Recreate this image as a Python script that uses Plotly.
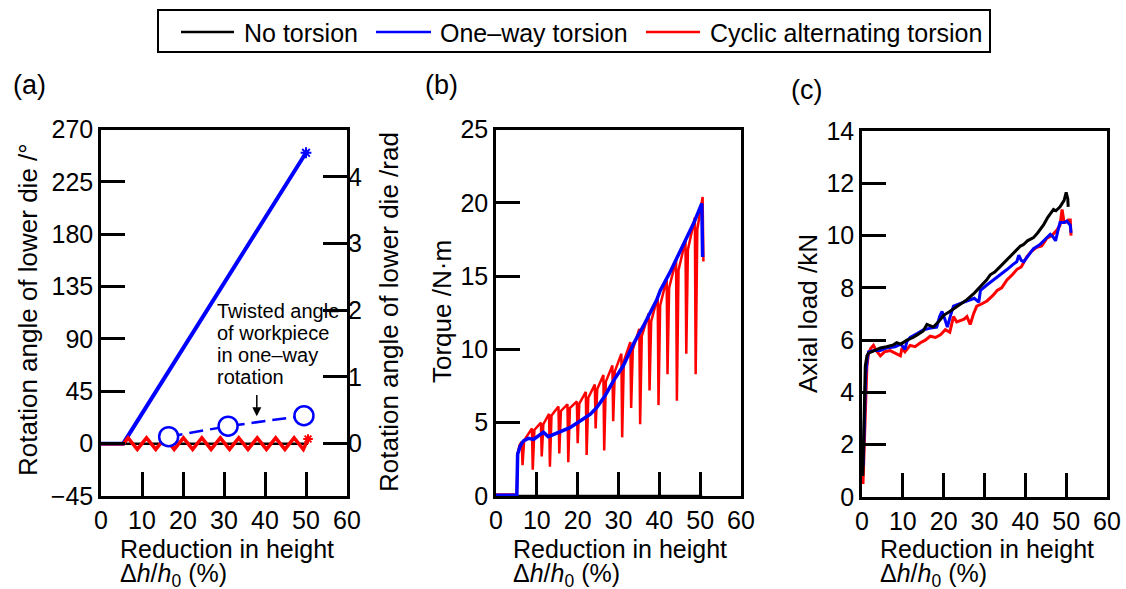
import plotly.graph_objects as go
import math

W, H = 1126, 589
def px(x):
    return x / W
def py(y):
    return 1 - y / H

FONT = "Arial, Liberation Sans, sans-serif"
BLACK, BLUE, RED = "#000000", "#0000ff", "#ff0000"

# ---------------- Panel (a): rotation angle ----------------
a_none_x = [0, 50.5]
a_none_y = [0, 0]
a_oneway_x = [0, 2.5, 5.4, 50.0]
a_oneway_y = [0, 0, 0, 250]
a_twist_x = [16.5, 31.0, 49.5]
a_twist_y = [6, 15, 24]
a_cyclic_x = [0, 5.5, 6.6, 8.85, 11.1, 13.35, 15.6, 17.85, 20.1, 22.35, 24.6,
              26.85, 29.1, 31.35, 33.6, 35.85, 38.1, 40.35, 42.6, 44.85, 47.1,
              49.35, 50.5]
a_cyclic_y = [0, 0, 5, -5, 5, -5, 5, -5, 5, -5, 5,
              -5, 5, -5, 5, -5, 5, -5, 5, -5, 5,
              -5, 4]
a_deg_ticks = [-45, 0, 45, 90, 135, 180, 225, 270]
a_rad_ticks = [0, 1, 2, 3, 4]

# ---------------- Panel (b): torque ----------------
b_none_x = [0, 50.5]
b_none_y = [0, 0]
b_oneway_x = [0, 2, 5.1, 5.3, 5.9, 6.7, 7.9, 9.2, 10.4, 11.6, 12.8, 14.9, 18.1,
              20.6, 23.1, 24.7, 26.7, 28.8, 31.2, 33.7, 36.1, 39.4, 40.2, 42.5,
              45.1, 48.4, 50.4, 50.6]
b_oneway_y = [0.05, 0.05, 0.05, 2.85, 3.4, 3.75, 3.93, 3.86, 4.09, 4.35, 4.05,
              4.3, 4.66, 5.12, 5.58, 6.04, 6.84, 7.87, 8.9, 10.4, 11.6, 13.4,
              14.0, 15.2, 16.65, 18.6, 19.95, 16.3]
b_cyclic_x = [0, 5.1, 5.3, 5.8, 6.3, 6.5, 6.9, 8.8, 9.0, 9.4, 11.0, 11.2, 11.6,
              13.0, 13.2, 13.6, 15.3, 15.5, 15.9, 17.5, 17.7, 18.1, 19.8, 20.0,
              20.4, 22.0, 22.2, 22.6, 24.2, 24.4, 24.8, 26.3, 26.5, 26.9, 28.5,
              28.7, 29.1, 30.7, 30.9, 31.3, 32.9, 33.1, 33.5, 35.1, 35.3, 35.7,
              37.4, 37.6, 38.0, 39.6, 39.8, 40.2, 41.8, 42.0, 42.4, 44.1, 44.3,
              44.7, 46.4, 46.6, 47.0, 48.7, 48.9, 49.3, 50.6, 50.8]
b_cyclic_y = [0.1, 0.1, 2.9, 3.5, 3.7, 2.1, 3.8, 4.6, 1.8, 4.5, 5.0, 2.7, 4.9,
              5.6, 2.0, 5.5, 6.1, 2.9, 5.8, 6.25, 2.3, 6.0, 6.45, 3.6,
              6.3, 7.1, 2.8, 6.7, 7.6, 4.6, 7.3, 8.25, 3.1, 7.8, 8.9,
              5.1, 8.5, 9.7, 4.0, 9.2, 10.5, 6.0, 10.0, 11.4, 4.9, 10.9,
              12.45, 7.2, 11.9, 13.6, 6.2, 13.0, 14.8, 8.3, 14.2, 16.1, 6.5,
              15.4, 17.45, 9.7, 16.8, 19.0, 8.3, 18.2, 20.4, 16.0]

# ---------------- Panel (c): axial load ----------------
c_none_x = [0.2, 0.5, 0.8, 1.2, 1.6, 3.0, 4.5, 6.0, 7.7, 8.5, 9.5, 11.0, 12.5,
            13.5, 15.0, 15.9, 17.5, 19.0, 20.0, 21.5, 23.3, 24.5, 25.7, 27.5,
            29.0, 30.5, 31.4, 32.5, 33.9, 35.0, 36.3, 37.5, 38.8, 39.5, 40.5,
            42.0, 43.0, 44.5, 45.5, 46.9, 47.5, 48.5, 49.5, 50.0, 50.4, 50.5]
c_none_y = [0.8, 3.0, 5.0, 5.4, 5.5, 5.6, 5.7, 5.75, 5.82, 5.9, 5.85, 6.0, 6.1,
            6.2, 6.35, 6.6, 6.5, 6.75, 6.95, 7.1, 7.3, 7.4, 7.55, 7.8,
            8.05, 8.3, 8.5, 8.6, 8.82, 9.0, 9.2, 9.4, 9.6, 9.65, 9.8,
            9.92, 10.1, 10.42, 10.7, 11.0, 10.95, 11.1, 11.35, 11.65, 11.4, 11.1]
c_oneway_x = [0.3, 0.6, 0.9, 1.3, 1.6, 3.0, 4.5, 6.0, 8.1, 9.5, 10.5, 11.0,
              11.8, 13.5, 15.1, 16.5, 18.3, 19.0, 19.6, 20.3, 20.9, 21.6, 22.4,
              24.0, 25.7, 27.5, 28.6, 29.0, 30.5, 32.2, 34.0, 35.5, 37.0, 37.9,
              38.4, 39.0, 39.6, 41.0, 42.0, 43.5, 44.5, 46.1, 46.8, 47.4, 48.0,
              48.5, 49.5, 50.2, 50.7, 51.0, 51.2]
c_oneway_y = [1.2, 3.0, 4.7, 5.3, 5.55, 5.6, 5.6, 5.7, 5.75, 5.85, 5.65, 5.95,
              6.1, 6.25, 6.4, 6.45, 6.5, 6.9, 7.1, 6.8, 6.5, 6.9, 7.3,
              7.4, 7.5, 7.6, 7.45, 7.9, 8.1, 8.3, 8.5, 8.7, 8.9, 9.0,
              9.25, 9.05, 9.0, 9.3, 9.5, 9.65, 9.8, 10.05, 9.95, 9.8, 10.2,
              10.5, 10.5, 10.55, 10.45, 10.4, 10.1]
c_cyclic_x = [0.24, 0.5, 0.9, 1.2, 1.6, 2.2, 2.8, 3.5, 4.5, 5.5, 6.9, 8.0, 9.4,
              9.8, 10.5, 11.8, 13.0, 14.3, 15.5, 16.7, 18.0, 19.2, 20.4, 21.5,
              22.4, 23.2, 24.1, 25.0, 25.7, 26.5, 27.3, 28.1, 29.5, 30.6, 32.0,
              33.1, 34.2, 35.5, 36.8, 37.9, 39.0, 40.4, 41.5, 42.8, 44.0, 45.3,
              46.5, 47.7, 48.5, 49.0, 49.5, 49.8, 50.5, 51.0, 51.2]
c_cyclic_y = [0.5, 2.0, 4.1, 5.0, 5.5, 5.7, 5.8, 5.6, 5.4, 5.55, 5.6, 5.5, 5.4,
              5.7, 5.55, 5.8, 5.75, 5.9, 6.0, 6.15, 6.1, 6.2, 6.4, 6.3,
              6.9, 6.7, 6.75, 6.8, 6.9, 6.6, 7.0, 7.3, 7.4, 7.5, 7.7,
              7.9, 8.0, 8.3, 8.5, 8.7, 8.8, 9.2, 9.4, 9.55, 9.6, 9.9,
              10.0, 10.2, 10.4, 11.0, 10.5, 10.5, 10.6, 10.6, 10.0]

x_ticks = [0, 10, 20, 30, 40, 50, 60]
b_y_ticks = [0, 5, 10, 15, 20, 25]
c_y_ticks = [0, 2, 4, 6, 8, 10, 12, 14]

legend_names = ["No torsion", "One\u2013way torsion", "Cyclic alternating torsion"]
legend_colors = [BLACK, BLUE, RED]

fig = go.Figure()

# Panel (a)
fig.add_trace(go.Scatter(x=a_none_x, y=a_none_y, mode="lines", name=legend_names[0],
                         line=dict(color=BLACK, width=2.5), xaxis="x", yaxis="y"))
fig.add_trace(go.Scatter(x=a_oneway_x, y=a_oneway_y, mode="lines", name=legend_names[1],
                         line=dict(color=BLUE, width=4), xaxis="x", yaxis="y"))
fig.add_trace(go.Scatter(x=a_oneway_x[-1:], y=a_oneway_y[-1:], mode="markers",
                         marker=dict(symbol="asterisk-open", size=9, color=BLUE,
                                     line=dict(color=BLUE, width=2)),
                         xaxis="x", yaxis="y"))
fig.add_trace(go.Scatter(x=a_cyclic_x, y=a_cyclic_y, mode="lines", name=legend_names[2],
                         line=dict(color=RED, width=3.5), xaxis="x", yaxis="y"))
fig.add_trace(go.Scatter(x=a_cyclic_x[-1:], y=a_cyclic_y[-1:], mode="markers",
                         marker=dict(symbol="asterisk-open", size=8, color=RED,
                                     line=dict(color=RED, width=2)),
                         xaxis="x", yaxis="y"))
fig.add_trace(go.Scatter(x=a_twist_x, y=a_twist_y, mode="lines+markers",
                         line=dict(color=BLUE, width=2.5, dash="14px,7px"),
                         marker=dict(symbol="circle", size=19, color="white",
                                     line=dict(color=BLUE, width=2.5)),
                         xaxis="x", yaxis="y"))
# invisible trace to activate the rad axis
fig.add_trace(go.Scatter(x=[0], y=[0], mode="markers", marker=dict(opacity=0),
                         xaxis="x", yaxis="y2", hoverinfo="skip"))

# Panel (b)
fig.add_trace(go.Scatter(x=b_none_x, y=b_none_y, mode="lines", line=dict(color=BLACK, width=2.5),
                         xaxis="x2", yaxis="y3"))
fig.add_trace(go.Scatter(x=b_cyclic_x, y=b_cyclic_y, mode="lines", line=dict(color=RED, width=2.5),
                         xaxis="x2", yaxis="y3"))
fig.add_trace(go.Scatter(x=b_oneway_x, y=b_oneway_y, mode="lines", line=dict(color=BLUE, width=3.5),
                         xaxis="x2", yaxis="y3"))

# Panel (c)
fig.add_trace(go.Scatter(x=c_cyclic_x, y=c_cyclic_y, mode="lines", line=dict(color=RED, width=3),
                         xaxis="x3", yaxis="y4"))
fig.add_trace(go.Scatter(x=c_oneway_x, y=c_oneway_y, mode="lines", line=dict(color=BLUE, width=3),
                         xaxis="x3", yaxis="y4"))
fig.add_trace(go.Scatter(x=c_none_x, y=c_none_y, mode="lines", line=dict(color=BLACK, width=3),
                         xaxis="x3", yaxis="y4"))

TICKFONT = dict(family=FONT, size=25, color=BLACK)
axis_common = dict(showline=True, linecolor=BLACK, linewidth=2.5, mirror=True,
                   ticks="inside", ticklen=24, tickwidth=2.5, tickcolor=BLACK,
                   showgrid=False, zeroline=False, tickfont=TICKFONT)

yb0, yb1 = py(496), py(129.5)
fig.update_layout(
    template="none",
    width=W, height=H,
    margin=dict(l=0, r=0, t=0, b=0),
    paper_bgcolor="white", plot_bgcolor="white",
    font=dict(family=FONT, size=24, color=BLACK),
    showlegend=False,
    xaxis=dict(domain=[px(101), px(347)], range=[0, 60], tickvals=x_ticks,
               anchor="y", **axis_common),
    yaxis=dict(domain=[yb0, yb1], range=[-45, 270], tickvals=a_deg_ticks,
               anchor="x", **axis_common),
    yaxis2=dict(overlaying="y", side="right", anchor="x",
                range=[-45 * math.pi / 180, 270 * math.pi / 180], tickvals=a_rad_ticks,
                showline=False, ticks="inside", ticklen=24, tickwidth=2.5, tickcolor=BLACK,
                showgrid=False, zeroline=False, tickfont=TICKFONT),
    xaxis2=dict(domain=[px(496), px(741)], range=[0, 60], tickvals=x_ticks,
                anchor="y3", **axis_common),
    yaxis3=dict(domain=[yb0, yb1], range=[0, 25], tickvals=b_y_ticks,
                anchor="x2", **axis_common),
    xaxis3=dict(domain=[px(862), px(1107)], range=[0, 60], tickvals=x_ticks,
                anchor="y4", **axis_common),
    yaxis4=dict(domain=[py(497), py(131)], range=[0, 14], tickvals=c_y_ticks,
                anchor="x3", **axis_common),
)

ann = []
def txt(x, y, s, size=24, xanchor="center", angle=0):
    ann.append(dict(x=px(x), y=py(y), xref="paper", yref="paper", text=s,
                    showarrow=False, xanchor=xanchor, yanchor="middle",
                    textangle=angle, font=dict(family=FONT, size=size, color=BLACK)))

# legend (box, swatches, labels)
shapes = [dict(type="rect", xref="paper", yref="paper", x0=px(158), x1=px(990),
               y0=py(52), y1=py(10), line=dict(color=BLACK, width=2), fillcolor="white")]
for (l0, l1, tx), name, col in zip([(181, 234, 242), (376, 431, 438), (646, 700, 708)],
                                   legend_names, legend_colors):
    shapes.append(dict(type="line", xref="paper", yref="paper", x0=px(l0), x1=px(l1),
                       y0=py(32), y1=py(32), line=dict(color=col, width=2.5)))
    txt(tx, 33, name, size=25, xanchor="left")

# panel letters
txt(29, 85, "(a)", size=27)
txt(441, 85, "(b)", size=27)
txt(806, 90, "(c)", size=27)
# y titles
txt(28, 310, "Rotation angle of lower die /\u00b0", size=26, angle=-90)
txt(389, 312, "Rotation angle of lower die /rad", size=26, angle=-90)
txt(442, 312, "Torque /N\u00b7m", size=26, angle=-90)
txt(808, 314, "Axial load /kN", size=26, angle=-90)
# x titles
for left in (118, 511, 878):
    txt(left, 549, "Reduction in height", size=25, xanchor="left")
    txt(left, 575, "\u0394<i>h</i>/<i>h</i><sub>0</sub> (%)", size=25, xanchor="left")
# annotation text in (a)
for s, yy in [("Twisted angle", 311), ("of workpiece", 333),
              ("in one\u2013way", 355), ("rotation", 377)]:
    txt(215, yy, s, size=20, xanchor="left")

fig.update_layout(annotations=ann, shapes=shapes)
fig.add_annotation(x=38, y=23.5, ax=38, ay=43, xref="x", yref="y", axref="x", ayref="y",
                   text="", showarrow=True, arrowhead=2, arrowsize=1.2, arrowwidth=1.5,
                   arrowcolor=BLACK)

fig.write_html("out.html")
